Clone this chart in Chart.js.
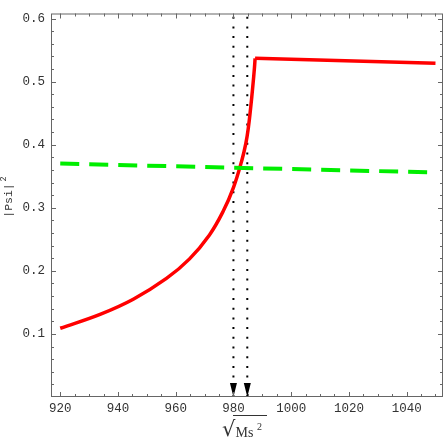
<!DOCTYPE html>
<html>
<head>
<meta charset="utf-8">
<script src="https://cdn.jsdelivr.net/npm/chart.js@4"></script>
<style>
  html, body { margin: 0; padding: 0; background: #fff; }
  #wrap { width: 445px; height: 445px; }
</style>
</head>
<body>
<div id="wrap"><canvas id="psi-chart" width="445" height="445"></canvas></div>
<script>
// plot window
const xMin = 916.8, xMax = 1052.6;
const yMin = 0, yMax = 0.608;
const xTicks = [920, 940, 960, 980, 1000, 1020, 1040];
const yTicks = [0.1, 0.2, 0.3, 0.4, 0.5, 0.6];

// red curve |Psi|^2 vs sqrt(Ms^2): rising branch, then the flat branch
const redRiseX = [920, 933.8, 945.3, 956.8, 964.8, 971.7, 976.4, 980.0, 982.9, 984.3, 985.2, 986.0, 986.7, 987.3, 987.5];
const redRiseY = [0.109, 0.131, 0.155, 0.188, 0.219, 0.257, 0.294, 0.332, 0.375, 0.402, 0.428, 0.460, 0.492, 0.523, 0.537];
const redFlatX = [987.5, 1050];
const redFlatY = [0.537, 0.529];

// green dashed curve
const greenX = [920, 1050];
const greenY = [0.370, 0.356];

// dotted vertical markers with arrows
const markerX = [980, 984.8];

const FONT = "'Liberation Mono', 'DejaVu Sans Mono', monospace";
const INK = "#333";
const FRAME = "#666";

const zip = (xs, ys) => xs.map((x, i) => ({ x: x, y: ys[i] }));

// frame with inward ticks on all four sides, arrows, axis titles
const framePlugin = {
    id: "frame",
    afterDatasetsDraw(chart) {
        const { ctx, chartArea: a, scales } = chart;
        const xs = scales.x, ys = scales.y;
        ctx.save();

        // arrowheads at the bottom of the markers
        ctx.fillStyle = "#000";
        markerX.forEach(v => {
            const px = xs.getPixelForValue(v);
            ctx.beginPath();
            ctx.moveTo(px, a.bottom);
            ctx.lineTo(px - 3.5, a.bottom - 14);
            ctx.lineTo(px + 3.5, a.bottom - 14);
            ctx.closePath();
            ctx.fill();
        });

        ctx.strokeStyle = FRAME;
        ctx.lineWidth = 1;
        ctx.strokeRect(a.left + 0.5, a.top + 0.5, a.right - a.left - 1, a.bottom - a.top - 1);

        ctx.beginPath();
        for (let v = 920; v <= 1050; v += 5) {
            const px = Math.round(xs.getPixelForValue(v)) + 0.5;
            const len = v % 20 === 0 ? 5 : 3;
            ctx.moveTo(px, a.bottom); ctx.lineTo(px, a.bottom - len);
            ctx.moveTo(px, a.top); ctx.lineTo(px, a.top + len);
        }
        for (let k = 1; k <= 30; k++) {
            const v = k * 0.02;
            const py = Math.round(ys.getPixelForValue(v)) + 0.5;
            const len = k % 5 === 0 ? 5 : 3;
            ctx.moveTo(a.left, py); ctx.lineTo(a.left + len, py);
            ctx.moveTo(a.right, py); ctx.lineTo(a.right - len, py);
        }
        ctx.stroke();

        // y title |Psi|^2
        ctx.fillStyle = INK;
        ctx.translate(9, 200.5);
        ctx.rotate(-Math.PI / 2);
        ctx.font = "11.5px " + FONT;
        ctx.textAlign = "center";
        ctx.textBaseline = "middle";
        ctx.fillText("|Psi|", 0, 0);
        ctx.font = "8.5px " + FONT;
        ctx.textAlign = "left";
        ctx.fillText("2", 19, -5);
        ctx.setTransform(1, 0, 0, 1, 0, 0);

        // x title sqrt(Ms^2)
        ctx.font = "21px 'DejaVu Sans', sans-serif";
        ctx.textAlign = "left";
        ctx.textBaseline = "alphabetic";
        ctx.fillText("\u221A", 222, 436);
        ctx.strokeStyle = INK;
        ctx.beginPath();
        ctx.moveTo(233, 415.5);
        ctx.lineTo(267, 415.5);
        ctx.stroke();
        ctx.font = "14px 'Liberation Serif', serif";
        ctx.fillText("Ms", 235.5, 437);
        ctx.font = "10px 'Liberation Serif', serif";
        ctx.fillText("2", 257, 430);
        ctx.restore();
    }
};

const redStyle = {
    borderColor: "#ff0000",
    borderWidth: 3.5,
    pointRadius: 0,
    order: 2,
};

new Chart(document.getElementById("psi-chart"), {
    type: "line",
    data: {
        datasets: [
            {
                label: "marker 1",
                data: [{ x: markerX[0], y: yMin }, { x: markerX[0], y: yMax }],
                borderColor: "#000",
                borderWidth: 2,
                borderDash: [2, 7.7],
                pointRadius: 0,
                order: 3,
            },
            {
                label: "marker 2",
                data: [{ x: markerX[1], y: yMin }, { x: markerX[1], y: yMax }],
                borderColor: "#000",
                borderWidth: 2,
                borderDash: [2, 7.7],
                pointRadius: 0,
                order: 3,
            },
            Object.assign({
                label: "red rise",
                data: zip(redRiseX, redRiseY),
                tension: 0.4,
            }, redStyle),
            Object.assign({
                label: "red flat",
                data: zip(redFlatX, redFlatY),
            }, redStyle),
            {
                label: "green",
                data: zip(greenX, greenY),
                borderColor: "#00ee00",
                borderWidth: 4,
                borderDash: [19, 10],
                pointRadius: 0,
                order: 1,
            },
        ],
    },
    options: {
        responsive: false,
        animation: false,
        devicePixelRatio: 1,
        layout: { padding: { top: 4, right: 2, left: 0, bottom: 0 } },
        plugins: {
            legend: { display: false },
            tooltip: { enabled: false },
        },
        scales: {
            x: {
                type: "linear",
                min: xMin,
                max: xMax,
                grid: { display: false, drawTicks: false },
                border: { display: false },
                afterBuildTicks: s => { s.ticks = xTicks.map(v => ({ value: v })); },
                afterFit: s => { s.height = 48; },
                ticks: {
                    color: INK,
                    font: { family: FONT, size: 12.5 },
                    padding: 4,
                    maxRotation: 0,
                    callback: v => String(v),
                },
            },
            y: {
                type: "linear",
                min: yMin,
                max: yMax,
                grid: { display: false, drawTicks: false },
                border: { display: false },
                afterBuildTicks: s => { s.ticks = yTicks.map(v => ({ value: v })); },
                afterFit: s => { s.width = 51; },
                ticks: {
                    color: INK,
                    font: { family: FONT, size: 12.5 },
                    padding: 6,
                    callback: v => v.toFixed(1),
                },
            },
        },
    },
    plugins: [framePlugin],
});
</script>
</body>
</html>
